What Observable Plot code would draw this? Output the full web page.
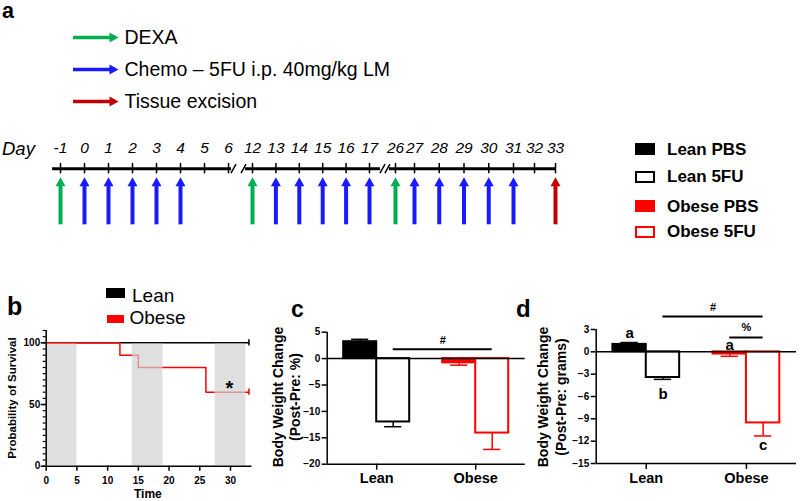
<!DOCTYPE html>
<html><head><meta charset="utf-8">
<script src="https://cdn.jsdelivr.net/npm/d3@7"></script>
<script src="https://cdn.jsdelivr.net/npm/@observablehq/plot@0.6"></script>
<style>
body{margin:0;background:#fff;}
#root{position:relative;width:800px;height:501px;overflow:hidden;font-family:"Liberation Sans",Arial,sans-serif;color:#000;background:#fff;}
.abs{position:absolute;white-space:nowrap;line-height:1;}
.plot{position:absolute;}
.plot svg{overflow:visible;}
</style></head><body><div id="root"></div>
<script>
// ---------------- data ----------------
const legendEvents = ["DEXA", "Chemo – 5FU i.p. 40mg/kg LM", "Tissue excision"];
const eventColors = ["#00b050", "#1a1aff", "#c00000"];
const dayTicks = [-1,0,1,2,3,4,5,6,12,13,14,15,16,17,26,27,28,29,30,31,32,33];
const dexaDays = [-1, 12, 26];
const chemoDays = [0,1,2,3,4,13,14,15,16,17,27,28,29,30,31];
const excisionDays = [33];

const groups = ["Lean PBS", "Lean 5FU", "Obese PBS", "Obese 5FU"];
const groupColors = ["#000000", "#000000", "#ff0000", "#ff0000"];
const groupFilled = [true, false, true, false];

const survivalGroups = ["Lean", "Obese"];
const survivalColors = ["#000000", "#ff0000"];
const leanTime = [0, 33];
const leanSurv = [100, 100];
const obeseTime = [0, 12, 15, 26, 33];
const obeseSurv = [100, 90, 80, 60, 60];
const shadeStart = [0, 14, 27.5];
const shadeEnd = [5, 19, 32.5];
const survXTicks = [0, 5, 10, 15, 20, 25, 30];
const survYTicks = [0, 50, 100];

const categories = ["Lean", "Obese"];
const pctMean = [3.2, -12.0, -0.8, -14.1];
const pctSem = [0.45, 0.9, 0.45, 3.1];
const pctTicks = [-20, -15, -10, -5, 0, 5];
const gramMean = [1.0, -3.45, -0.3, -9.55];
const gramSem = [0.25, 0.25, 0.3, 1.75];
const gramTicks = [-15, -12, -9, -6, -3, 0, 3];
const dLetters = ["a", "b", "a", "c"];
const dLetterY = [2.5, -5.7, 0.9, -12.5];
const cSigLabel = ["#"], cSigFrom = [1], cSigTo = [3], cSigLineY = [1.76], cSigTextY = [3.5];
const dSigLabel = ["#", "%"], dSigFrom = [1, 2], dSigTo = [3, 3], dSigLineY = [4.75, 1.92], dSigTextY = [6.0, 3.27];

// ---------------- helpers ----------------
const FONT = '"Liberation Sans", Arial, sans-serif';
const root = document.getElementById("root");
function addText(s, x, cy, fs, style = {}) {
  const el = document.createElement("div");
  el.className = "abs";
  el.textContent = s;
  Object.assign(el.style, {left: x + "px", top: (cy - 0.488 * fs) + "px", fontSize: fs + "px"}, style);
  root.appendChild(el);
  return el;
}
function addBase(s, x, base, fs, style = {}) {
  // line-height 0.8 box: baseline = top + 0.7465*fs
  const el = document.createElement("div");
  el.className = "abs";
  el.textContent = s;
  Object.assign(el.style, {left: x + "px", top: (base - 0.7465 * fs) + "px", fontSize: fs + "px", lineHeight: "0.8"}, style);
  root.appendChild(el);
  return el;
}
function addRotated(lines, cx, cy, fs, lh) {
  const el = document.createElement("div");
  el.className = "abs";
  el.innerHTML = lines.join("<br>");
  Object.assign(el.style, {left: cx + "px", top: cy + "px", fontSize: fs + "px", lineHeight: lh + "px",
    fontWeight: "bold", textAlign: "center", transform: "translate(-50%,-50%) rotate(-90deg)"});
  root.appendChild(el);
}
function addBox(x, y, w, h, fill, border) {
  const el = document.createElement("div");
  Object.assign(el.style, {position: "absolute", left: x + "px", top: y + "px", width: w + "px", height: h + "px",
    boxSizing: "border-box", background: fill, border: border || "none"});
  root.appendChild(el);
}
function place(plot, x, y) {
  const w = document.createElement("div");
  w.className = "plot";
  w.style.left = x + "px";
  w.style.top = y + "px";
  w.appendChild(plot);
  root.appendChild(w);
}
const upHead = {draw(ctx) { ctx.moveTo(0, 0); ctx.lineTo(5, 9); ctx.lineTo(-5, 9); ctx.closePath(); }};
const rightHead = {draw(ctx) { ctx.moveTo(0, 0); ctx.lineTo(-9, -5); ctx.lineTo(-9, 5); ctx.closePath(); }};
const slash = {draw(ctx) { ctx.moveTo(-2.5, 4.5); ctx.lineTo(2.5, -4.5); }};

// ---------------- panel a : arrow legend ----------------
addBase("a", 2, 19, 21.5, {fontWeight: "bold"});
const legRows = legendEvents.map((name, i) => ({name, color: eventColors[i]}));
place(Plot.plot({
  width: 420, height: 120, margin: 0,
  style: {fontFamily: FONT, background: "none", overflow: "visible", color: "#000"},
  x: {domain: [0, 1], range: [73, 118], axis: null},
  y: {type: "point", domain: legendEvents, range: [36, 101], padding: 0, axis: null},
  color: {type: "identity"},
  marks: [
    Plot.ruleY(legRows, {y: "name", x1: 0, x2: 0.85, stroke: "color", strokeWidth: 3.3}),
    Plot.dot(legRows, {y: "name", x: 1, symbol: rightHead, fill: "color", stroke: "none"}),
    Plot.text(legRows, {y: "name", x: 1, dx: 6, text: "name", textAnchor: "start", fontSize: 19.5, fill: "#000"})
  ]
}), 0, 0);

// ---------------- panel a : timeline ----------------
addText("Day", 2, 149.5, 18.5, {fontStyle: "italic"});
const LV = {line: 1.18, tickLo: 1.07, tickHi: 1.29, label: 1.61, shaft: 0.85};
const tlSegments = [[-1.33, 6.75], [10.25, 20.8], [23.9, 33]];
const tlBreaks = [7.25, 9.75, 21.5, 23.2];
const events = [
  ...dexaDays.map(day => ({day, color: eventColors[0]})),
  ...chemoDays.map(day => ({day, color: eventColors[1]})),
  ...excisionDays.map(day => ({day, color: eventColors[2]}))
];
place(Plot.plot({
  width: 600, height: 105, margin: 0,
  style: {fontFamily: FONT, background: "none", overflow: "visible", color: "#000"},
  x: {type: "linear", domain: [-1, 6, 12, 17, 26, 27, 31, 33], range: [60, 228, 252, 369, 395, 414, 513, 555], axis: null},
  y: {domain: [0, 1], range: [99.3, 51.7], axis: null},
  color: {type: "identity"},
  marks: [
    Plot.ruleY(tlSegments, {y: LV.line, x1: d => d[0], x2: d => d[1], strokeWidth: 3, stroke: "#000"}),
    Plot.dot(tlBreaks, {x: d => d, y: LV.line, symbol: slash, stroke: "#000", fill: "none", strokeWidth: 1.5}),
    Plot.ruleX(dayTicks, {x: d => d, y1: LV.tickLo, y2: LV.tickHi, strokeWidth: 1.5, stroke: "#000"}),
    Plot.text(dayTicks, {x: d => d, y: LV.label, text: d => String(d), fontSize: 15.5, fontStyle: "italic", fill: "#000"}),
    Plot.ruleX(events, {x: "day", y1: 0, y2: LV.shaft, stroke: "color", strokeWidth: 4}),
    Plot.dot(events, {x: "day", y: 1, symbol: upHead, fill: "color", stroke: "none"})
  ]
}), 0, 125);

// ---------------- group legend ----------------
const glegY = [149, 176.7, 206, 231.7];
groups.forEach((g, i) => {
  addBox(635, glegY[i] - 6, 20, 12, groupFilled[i] ? groupColors[i] : "#fff", groupFilled[i] ? "none" : "2px solid " + groupColors[i]);
  addText(g, 667, glegY[i], 17, {fontWeight: "bold"});
});

// ---------------- panel b : survival ----------------
addBase("b", 7, 315, 25, {fontWeight: "bold"});
addBox(106, 288.3, 19, 10, survivalColors[0]);
addText(survivalGroups[0], 132, 295, 19);
addBox(106.7, 315, 17.5, 7.5, survivalColors[1]);
addText(survivalGroups[1], 129.5, 317.5, 19);
addRotated(["Probability of Survival"], 12, 397.5, 11.5, 13);
addText("Time", 134, 494, 12, {fontWeight: "bold"});

const leanRows = leanTime.map((t, i) => ({t, s: leanSurv[i]}));
const obeseRows = obeseTime.map((t, i) => ({t, s: obeseSurv[i]}));
const shades = shadeStart.map((a, i) => ({a, b: shadeEnd[i]}));
const censor = [
  {t: leanTime[leanTime.length - 1], s: leanSurv[leanSurv.length - 1], c: survivalColors[0]},
  {t: obeseTime[obeseTime.length - 1], s: obeseSurv[obeseSurv.length - 1], c: survivalColors[1]}
];
place(Plot.plot({
  width: 260, height: 181,
  marginLeft: 45.7, marginRight: 8.5, marginTop: 10, marginBottom: 35.3,
  style: {fontFamily: FONT, background: "none", overflow: "visible", color: "#000", fontSize: "10px", fontWeight: "bold"},
  x: {domain: [0, 33.5]},
  y: {domain: [0, 110]},
  color: {type: "identity"},
  marks: [
    Plot.line(leanRows, {x: "t", y: "s", curve: "step-after", stroke: survivalColors[0], strokeWidth: 1.5}),
    Plot.line(obeseRows, {x: "t", y: "s", curve: "step-after", stroke: survivalColors[1], strokeWidth: 1.5}),
    Plot.rect(shades, {x1: "a", x2: "b", y1: 0.5, y2: 99, fill: "#d2d2d2", fillOpacity: 0.7}),
    Plot.ruleX(censor, {x: "t", y1: d => d.s - 2.5, y2: d => d.s + 2.5, stroke: "c", strokeWidth: 1.5}),
    Plot.ruleX([0], {y1: 0, y2: 110, strokeWidth: 1.5, stroke: "#000"}),
    Plot.ruleY([0], {x1: 0, x2: 33.5, strokeWidth: 1.5, stroke: "#000"}),
    Plot.axisY({ticks: d3.range(0, 111, 5), tickSize: 3, tickFormat: () => "", strokeWidth: 1.2, label: null}),
    Plot.axisY({ticks: survYTicks, tickSize: 5, tickPadding: 1, strokeWidth: 1.5, fontSize: 10, fontWeight: "bold", label: null}),
    Plot.axisX({ticks: survXTicks, tickSize: 5, tickPadding: 6, strokeWidth: 1.5, fontSize: 10, fontWeight: "bold", label: null}),
    Plot.text(["*"], {x: 29.8, y: 63, text: d => d, fontSize: 20, fontWeight: "bold", fill: "#000"})
  ]
}), 0, 320);

// ---------------- bar panels ----------------
function barPanel(o) {
  const rows = groups.map((g, i) => ({
    g, slot: Math.floor(i / 2) * 3 + (i % 2) + 1, v: o.means[i], e: o.sems[i],
    color: groupColors[i], fill: groupFilled[i] ? groupColors[i] : "#ffffff"
  }));
  const end = d => d.v + Math.sign(d.v) * d.e;
  const sig = o.sigLabel.map((s, i) => ({
    s, x1: rows[o.sigFrom[i]].slot, x2: rows[o.sigTo[i]].slot, y: o.sigLineY[i], ty: o.sigTextY[i]
  }));
  const marks = [
    Plot.rect(rows, {x1: d => d.slot - 0.5, x2: d => d.slot + 0.5, y1: 0, y2: "v", fill: "fill", stroke: "color", strokeWidth: 2}),
    Plot.ruleX(rows, {x: "slot", y1: "v", y2: end, stroke: "color", strokeWidth: 1.5}),
    Plot.ruleY(rows, {y: end, x1: d => d.slot - 0.26, x2: d => d.slot + 0.26, stroke: "color", strokeWidth: 1.5}),
    Plot.ruleY([0], {x1: 0, x2: 6, stroke: "#000", strokeWidth: 1.5}),
    Plot.ruleY([o.yDomain[0]], {x1: 0, x2: 6, stroke: "#000", strokeWidth: 1.5}),
    Plot.ruleX([0], {y1: o.yDomain[0], y2: o.yDomain[1], stroke: "#000", strokeWidth: 1.5}),
    Plot.axisY({ticks: o.yTicks, tickSize: 5, tickPadding: 2, strokeWidth: 1.5, fontSize: 10, fontWeight: "bold", label: null}),
    Plot.axisX({ticks: [1.5, 4.5], tickFormat: d => categories[Math.round((d - 1.5) / 3)], tickSize: 6, tickPadding: 3,
      strokeWidth: 1.5, fontSize: 14.5, fontWeight: "bold", label: null}),
    Plot.ruleY(sig, {y: "y", x1: "x1", x2: "x2", stroke: "#000", strokeWidth: 2}),
    Plot.text(sig, {x: d => (d.x1 + d.x2) / 2, y: "ty", text: "s", fontSize: 11, fontWeight: "bold", fill: "#000"})
  ];
  if (o.letters) {
    marks.push(Plot.text(rows, {x: "slot", y: (d, i) => o.letterY[i], text: (d, i) => o.letters[i], fontSize: 15, fontWeight: "bold", fill: "#000"}));
  }
  return Plot.plot({
    width: o.width, height: o.height,
    marginLeft: o.mL, marginRight: o.mR, marginTop: o.mT, marginBottom: o.mB,
    style: {fontFamily: FONT, background: "none", overflow: "visible", color: "#000", fontSize: "10px", fontWeight: "bold"},
    x: {domain: [0, 6]},
    y: {domain: o.yDomain},
    color: {type: "identity"},
    marks
  });
}

// panel c
addBase("c", 291, 317, 23, {fontWeight: "bold"});
addRotated(["Body Weight Change", "(Post-Pre: %)"], 286.5, 397, 14, 17);
place(barPanel({
  means: pctMean, sems: pctSem, yDomain: [-20, 5], yTicks: pctTicks,
  width: 270, height: 201, mL: 66.7, mR: 5.3, mT: 31.7, mB: 37.3,
  sigLabel: cSigLabel, sigFrom: cSigFrom, sigTo: cSigTo, sigLineY: cSigLineY, sigTextY: cSigTextY
}), 260, 300);

// panel d
addBase("d", 516, 317, 24, {fontWeight: "bold"});
addRotated(["Body Weight Change", "(Post-Pre: grams)"], 552, 397, 14, 18);
place(barPanel({
  means: gramMean, sems: gramSem, yDomain: [-15, 3], yTicks: gramTicks,
  width: 270, height: 201, mL: 65.7, mR: 4, mT: 29, mB: 38,
  sigLabel: dSigLabel, sigFrom: dSigFrom, sigTo: dSigTo, sigLineY: dSigLineY, sigTextY: dSigTextY,
  letters: dLetters, letterY: dLetterY
}), 530, 300);
</script>
</body></html>
